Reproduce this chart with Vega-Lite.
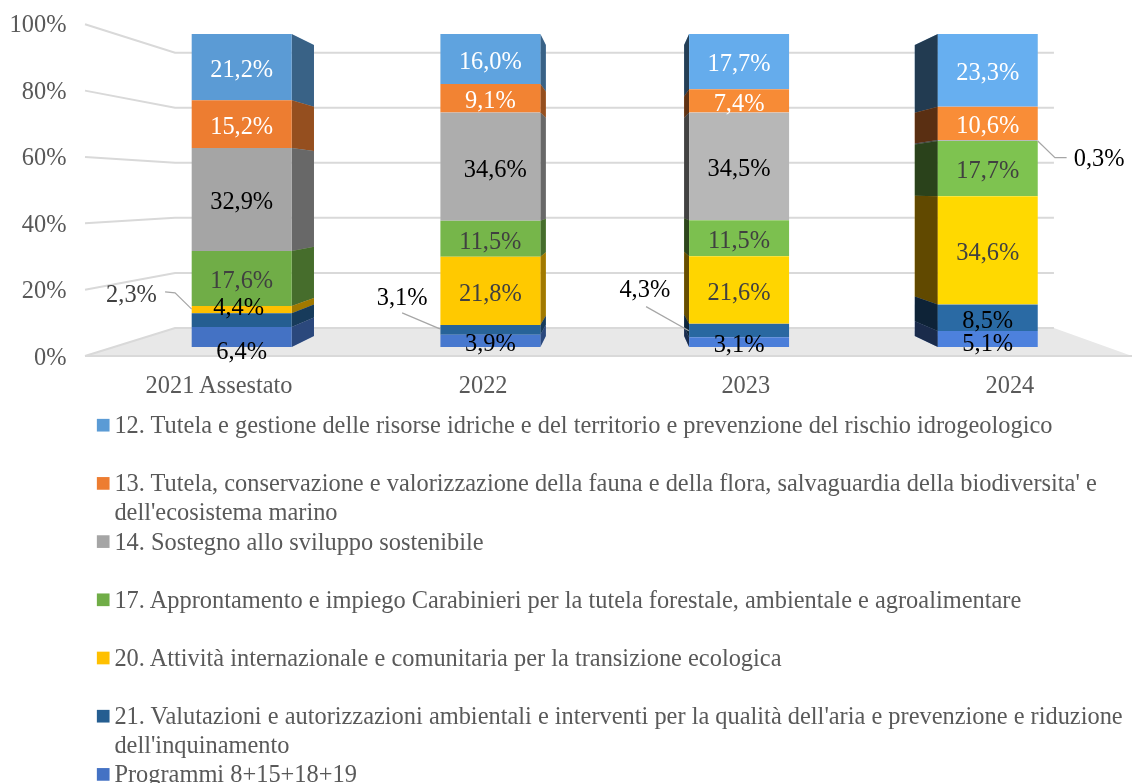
{"$schema":"https://vega.github.io/schema/vega-lite/v6.json","width":1132,"height":783,"autosize":{"type":"none"},"padding":0,"background":"white","config":{"view":{"stroke":null},"font":"Liberation Serif"},
"datasets":{"shares":[
{"year":"2021 Assestato","series":"12. Tutela e gestione delle risorse idriche e del territorio e prevenzione del rischio idrogeologico","value":21.2},
{"year":"2021 Assestato","series":"13. Tutela, conservazione e valorizzazione della fauna e della flora, salvaguardia della biodiversita' e dell'ecosistema marino","value":15.2},
{"year":"2021 Assestato","series":"14. Sostegno allo sviluppo sostenibile","value":32.9},
{"year":"2021 Assestato","series":"17. Approntamento e impiego Carabinieri per la tutela forestale, ambientale e agroalimentare","value":17.6},
{"year":"2021 Assestato","series":"20. Attività internazionale e comunitaria per la transizione ecologica","value":2.3},
{"year":"2021 Assestato","series":"21. Valutazioni e autorizzazioni ambientali e interventi per la qualità dell'aria e prevenzione e riduzione dell'inquinamento","value":4.4},
{"year":"2021 Assestato","series":"Programmi 8+15+18+19","value":6.4},
{"year":"2022","series":"12. Tutela e gestione delle risorse idriche e del territorio e prevenzione del rischio idrogeologico","value":16.0},
{"year":"2022","series":"13. Tutela, conservazione e valorizzazione della fauna e della flora, salvaguardia della biodiversita' e dell'ecosistema marino","value":9.1},
{"year":"2022","series":"14. Sostegno allo sviluppo sostenibile","value":34.6},
{"year":"2022","series":"17. Approntamento e impiego Carabinieri per la tutela forestale, ambientale e agroalimentare","value":11.5},
{"year":"2022","series":"20. Attività internazionale e comunitaria per la transizione ecologica","value":21.8},
{"year":"2022","series":"21. Valutazioni e autorizzazioni ambientali e interventi per la qualità dell'aria e prevenzione e riduzione dell'inquinamento","value":3.1},
{"year":"2022","series":"Programmi 8+15+18+19","value":3.9},
{"year":"2023","series":"12. Tutela e gestione delle risorse idriche e del territorio e prevenzione del rischio idrogeologico","value":17.7},
{"year":"2023","series":"13. Tutela, conservazione e valorizzazione della fauna e della flora, salvaguardia della biodiversita' e dell'ecosistema marino","value":7.4},
{"year":"2023","series":"14. Sostegno allo sviluppo sostenibile","value":34.5},
{"year":"2023","series":"17. Approntamento e impiego Carabinieri per la tutela forestale, ambientale e agroalimentare","value":11.5},
{"year":"2023","series":"20. Attività internazionale e comunitaria per la transizione ecologica","value":21.6},
{"year":"2023","series":"21. Valutazioni e autorizzazioni ambientali e interventi per la qualità dell'aria e prevenzione e riduzione dell'inquinamento","value":4.3},
{"year":"2023","series":"Programmi 8+15+18+19","value":3.1},
{"year":"2024","series":"12. Tutela e gestione delle risorse idriche e del territorio e prevenzione del rischio idrogeologico","value":23.3},
{"year":"2024","series":"13. Tutela, conservazione e valorizzazione della fauna e della flora, salvaguardia della biodiversita' e dell'ecosistema marino","value":10.6},
{"year":"2024","series":"14. Sostegno allo sviluppo sostenibile","value":0.3},
{"year":"2024","series":"17. Approntamento e impiego Carabinieri per la tutela forestale, ambientale e agroalimentare","value":17.7},
{"year":"2024","series":"20. Attività internazionale e comunitaria per la transizione ecologica","value":34.6},
{"year":"2024","series":"21. Valutazioni e autorizzazioni ambientali e interventi per la qualità dell'aria e prevenzione e riduzione dell'inquinamento","value":8.5},
{"year":"2024","series":"Programmi 8+15+18+19","value":5.1}
],
"leaders":[
{"year":"2021","step":0,"u":-0.308,"f":0.176},{"year":"2021","step":1,"u":-0.268,"f":0.173},{"year":"2021","step":2,"u":-0.201,"f":0.121},
{"year":"2022","step":0,"u":0.645,"f":0.109},{"year":"2022","step":1,"u":0.797,"f":0.058},
{"year":"2023","step":0,"u":1.626,"f":0.129},{"year":"2023","step":1,"u":1.798,"f":0.052},
{"year":"2024","step":0,"u":3.201,"f":0.658},{"year":"2024","step":1,"u":3.27,"f":0.605},{"year":"2024","step":2,"u":3.317,"f":0.605}
]},
"data":{"name":"shares"},
"transform":[
{"calculate":"indexof(['2021 Assestato','2022','2023','2024'],datum.year)","as":"idx"},
{"calculate":"indexof(['12','13','14','17','20','21','Pr'],substring(datum.series,0,2))","as":"rank"},
{"stack":"value","groupby":["year"],"sort":[{"field":"rank","order":"descending"}],"offset":"normalize","as":["y0","y1"]},
{"calculate":"datum.idx-0.201","as":"xl"},
{"calculate":"datum.idx+0.201","as":"xr"},
{"calculate":"[0.37,0.37,0.6,0.62][datum.idx]","as":"shade"},
{"calculate":"[0,0.25,0.55,0.65][datum.idx]","as":"light"}
],
"encoding":{
"x":{"type":"quantitative","scale":{"domain":[-0.9718,3.5799],"nice":false,"zero":false},"axis":{"values":[-0.093,0.969,2.025,3.087],"labelExpr":"['2021 Assestato','2022','2023','2024'][round(datum.index*3)]","orient":"bottom","offset":-410,"domain":false,"ticks":false,"grid":false,"title":null,"labelPadding":0,"labelFontSize":24.4,"labelFont":"Liberation Serif","labelColor":"#595959","labelOverlap":false,"labelFlush":false,"labelBound":false}},
"y":{"type":"quantitative","stack":null,"scale":{"domain":[-1.393,1.1086],"nice":false,"zero":false},"axis":{"values":[-0.032,0.18,0.392,0.604,0.817,1.029],"labelExpr":"round(datum.index*5)*20+'%'","orient":"left","offset":-66,"domain":false,"ticks":false,"grid":false,"title":null,"labelPadding":0,"labelFontSize":24.4,"labelFont":"Liberation Serif","labelColor":"#595959","labelOverlap":false,"labelBound":false}}
},
"layer":[
{"data":{"values":[{"u":-0.63,"top":-0.029},{"u":-0.268,"top":0.061},{"u":3.266,"top":0.061},{"u":3.58,"top":-0.029}]},"transform":[],
"mark":{"type":"area","color":"#e8e8e8"},
"encoding":{"x":{"field":"u"},"y":{"field":"top"},"y2":{"datum":-0.029}}},
{"data":{"values":[{"level":0},{"level":0.2},{"level":0.4},{"level":0.6},{"level":0.8},{"level":1}]},
"transform":[{"calculate":"[0,1,2]","as":"pt"},{"flatten":["pt"]},{"calculate":"[-0.63,-0.268,3.266][datum.pt]","as":"u"},{"calculate":"datum.pt==0?(-9+331.7*datum.level)/313:(19+275.3*datum.level)/313","as":"f"}],
"mark":{"type":"line","color":"#d9d9d9","strokeWidth":2},
"encoding":{"x":{"field":"u"},"y":{"field":"f"},"detail":{"field":"level"},"order":{"field":"pt"}}},
{"data":{"values":[{"u":-0.63,"u2":3.58,"f":-0.029}]},"transform":[],
"mark":{"type":"rule","color":"#d9d9d9","strokeWidth":2},
"encoding":{"x":{"field":"u"},"x2":{"field":"u2"},"y":{"field":"f"}}},
{"transform":[{"calculate":"[0,1]","as":"t"},{"flatten":["t"]},
{"calculate":"(datum.idx<2?datum.xr:datum.xl)+datum.t*[0.0897,0.0221,-0.0201,-0.0925][datum.idx]","as":"sx"},
{"calculate":"datum.t==0?datum.y0:0.035+0.93*datum.y0","as":"sy0"},
{"calculate":"datum.t==0?datum.y1:0.035+0.93*datum.y1","as":"sy1"}],
"mark":{"type":"area"},"encoding":{
"x":{"field":"sx"},"y":{"field":"sy0"},"y2":{"field":"sy1"},
"color":{"field":"series","type":"nominal","scale":{"domain":["12. Tutela e gestione delle risorse idriche e del territorio e prevenzione del rischio idrogeologico","13. Tutela, conservazione e valorizzazione della fauna e della flora, salvaguardia della biodiversita' e dell'ecosistema marino","14. Sostegno allo sviluppo sostenibile","17. Approntamento e impiego Carabinieri per la tutela forestale, ambientale e agroalimentare","20. Attività internazionale e comunitaria per la transizione ecologica","21. Valutazioni e autorizzazioni ambientali e interventi per la qualità dell'aria e prevenzione e riduzione dell'inquinamento","Programmi 8+15+18+19"],"range":["#5B9BD5","#ED7D31","#A5A5A5","#70AD47","#FFC000","#255E91","#4472C4"]},
"legend":{"title":null,"orient":"none","legendX":91,"legendY":413,"padding":0,"columns":1,"gridAlign":"all","rowPadding":4.2,"symbolType":"square","symbolSize":161,"symbolStrokeWidth":0,"labelFont":"Liberation Serif","labelFontSize":24.4,"labelColor":"#595959","labelLimit":1100,"labelOffset":-1,"labelExpr":"split(replace(replace(datum.label,\" dell'ecosistema\",\"~dell'ecosistema\"),\" dell'inquinamento\",\"~dell'inquinamento\"),'~')","encoding":{"labels":{"lineHeight":{"value":29},"baseline":{"value":"alphabetic"},"dy":{"value":8}}}}},
"detail":{"field":"year"}}},
{"transform":[{"calculate":"[0,1]","as":"t"},{"flatten":["t"]},
{"calculate":"(datum.idx<2?datum.xr:datum.xl)+datum.t*[0.0897,0.0221,-0.0201,-0.0925][datum.idx]","as":"sx"},
{"calculate":"datum.t==0?datum.y0:0.035+0.93*datum.y0","as":"sy0"},
{"calculate":"datum.t==0?datum.y1:0.035+0.93*datum.y1","as":"sy1"}],
"mark":{"type":"area","color":"black"},"encoding":{
"x":{"field":"sx"},"y":{"field":"sy0"},"y2":{"field":"sy1"},
"opacity":{"field":"shade","type":"quantitative","scale":null,"legend":null},
"detail":[{"field":"year"},{"field":"series"}]}},
{"mark":{"type":"rect"},"encoding":{
"x":{"field":"xl"},"x2":{"field":"xr"},"y":{"field":"y0"},"y2":{"field":"y1"},
"color":{"field":"series","type":"nominal"}}},
{"mark":{"type":"rect","color":"#2a2a2a","blend":"color-dodge"},"encoding":{
"x":{"field":"xl"},"x2":{"field":"xr"},"y":{"field":"y0"},"y2":{"field":"y1"},
"opacity":{"field":"light","type":"quantitative","scale":null,"legend":null}}},
{"data":{"name":"leaders"},"transform":[],
"mark":{"type":"line","color":"#A6A6A6","strokeWidth":1.2},
"encoding":{"x":{"field":"u"},"y":{"field":"f"},"detail":{"field":"year"},"order":{"field":"step"}}},
{"transform":[
{"calculate":"substring(datum.year,0,4)+'|'+substring(datum.series,0,2)","as":"key"},
{"calculate":"({'2021|20':[-0.443,0.169],'2021|21':[-0.012,0.129],'2021|Pr':[0,-0.013],'2022|21':[0.645,0.16],'2022|14':[1.02,0.57],'2023|21':[1.621,0.185],'2023|Pr':[2,0.01],'2024|14':[3.448,0.604],'2024|Pr':[3,0.014]})[datum.key]","as":"mv"},
{"calculate":"datum.mv?datum.mv[0]:datum.idx","as":"lx"},
{"calculate":"datum.mv?datum.mv[1]-0.004:(datum.y0+datum.y1)/2-0.009","as":"ly"},
{"calculate":"replace(format(datum.value,'.1f'),'.',',')+'%'","as":"lab"}],
"mark":{"type":"text","font":"Liberation Serif","fontSize":24.4,"baseline":"middle","align":"center"},
"encoding":{"x":{"field":"lx"},"y":{"field":"ly"},
"text":{"field":"lab"},
"color":{"condition":[{"test":"datum.rank<2","value":"#ffffff"},{"test":"datum.key=='2021|20'||datum.rank==3||(datum.rank==4&&datum.idx!=0)","value":"#404040"}],"value":"#000000"}}}
]}
